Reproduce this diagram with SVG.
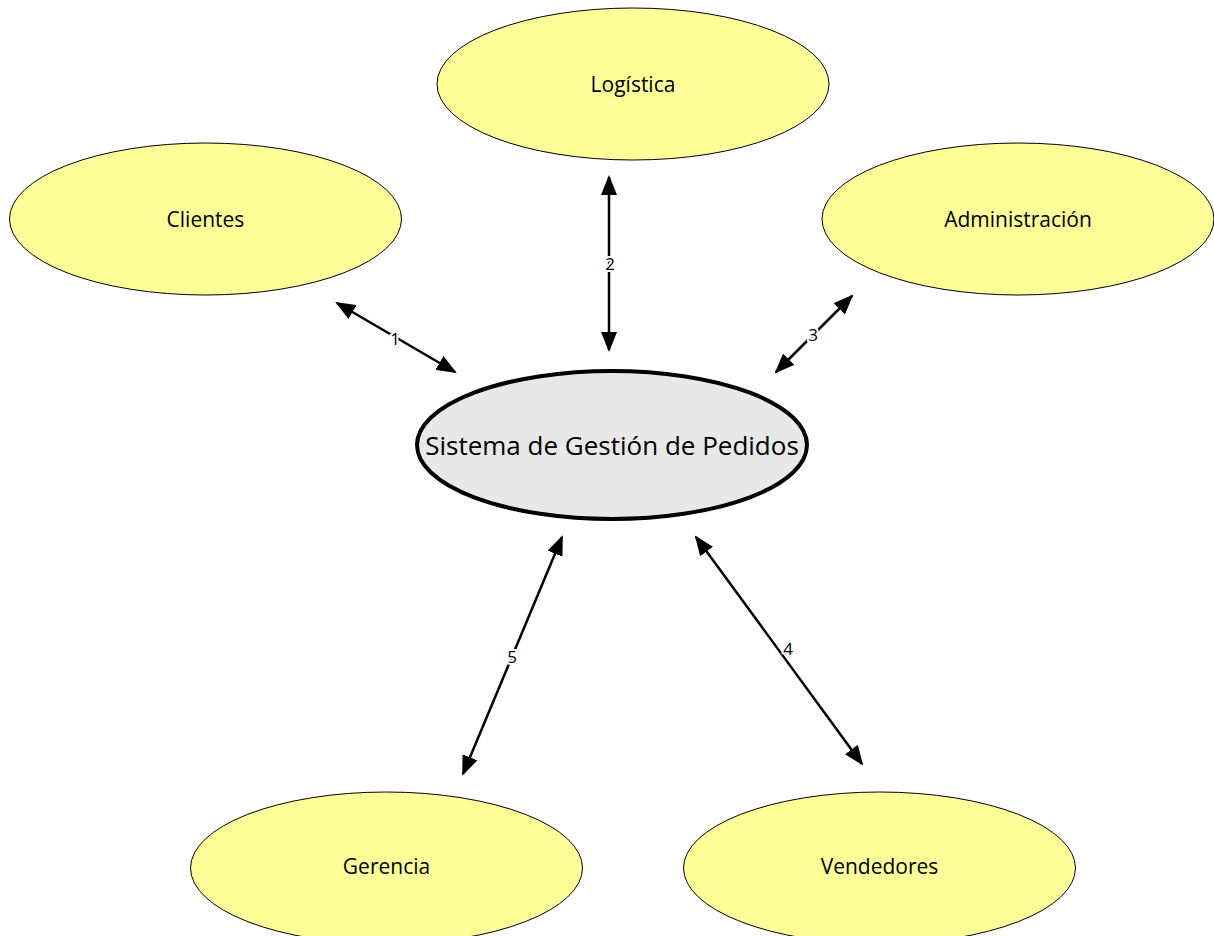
<svg xmlns="http://www.w3.org/2000/svg" width="1214" height="936" viewBox="0 0 1214 936">
<style>
.n{fill:#ffff99;stroke:#000;stroke-width:1}
.t{font-family:"Open Sans","Liberation Sans",sans-serif;font-size:21px;fill:#000;text-anchor:middle;dominant-baseline:central}
.c{stroke:#000;stroke-width:2.5;fill:none;marker-start:url(#a);marker-end:url(#a)}
.l{font-family:"Open Sans","Liberation Sans",sans-serif;font-size:17px;fill:#000;text-anchor:middle;dominant-baseline:central;stroke:#fff;stroke-width:4;paint-order:stroke}
</style>
<defs>
<marker id="a" viewBox="0 0 20 16" refX="18" refY="8" markerWidth="20" markerHeight="16" markerUnits="userSpaceOnUse" orient="auto-start-reverse">
<path d="M0,0 L20,8 L0,16 Z" fill="#000"/>
</marker>
</defs>
<rect width="1214" height="936" fill="#fff"/>
<g id="connectors">
<line class="c" x1="337" y1="303" x2="455" y2="372"/>
<line class="c" x1="609" y1="177" x2="609" y2="350"/>
<line class="c" x1="852" y1="296" x2="776" y2="372"/>
<line class="c" x1="696" y1="537" x2="862" y2="764"/>
<line class="c" x1="562" y1="537" x2="463" y2="774"/>
<text class="l" x="395" y="338">1</text>
<text class="l" x="610" y="263">2</text>
<text class="l" x="813" y="334">3</text>
<text class="l" x="788" y="648">4</text>
<text class="l" x="512" y="656">5</text>
</g>
<g id="logistica"><ellipse class="n" cx="633" cy="84" rx="196" ry="76"/><text class="t" x="633" y="84">Logística</text></g>
<g id="clientes"><ellipse class="n" cx="205.5" cy="219" rx="196" ry="76"/><text class="t" x="205.5" y="219">Clientes</text></g>
<g id="administracion"><ellipse class="n" cx="1018" cy="219" rx="196" ry="76"/><text class="t" x="1018" y="219">Administración</text></g>
<g id="gerencia"><ellipse class="n" cx="386.5" cy="868" rx="196" ry="76"/><text class="t" x="386.5" y="866">Gerencia</text></g>
<g id="vendedores"><ellipse class="n" cx="879.5" cy="868" rx="196" ry="76"/><text class="t" x="879.5" y="866">Vendedores</text></g>
<g id="sistema"><ellipse cx="612" cy="445" rx="195" ry="74" fill="#e8e8e8" stroke="#000" stroke-width="4"/><text class="t" x="612" y="445" style="font-size:26px">Sistema de Gestión de Pedidos</text></g>
</svg>
